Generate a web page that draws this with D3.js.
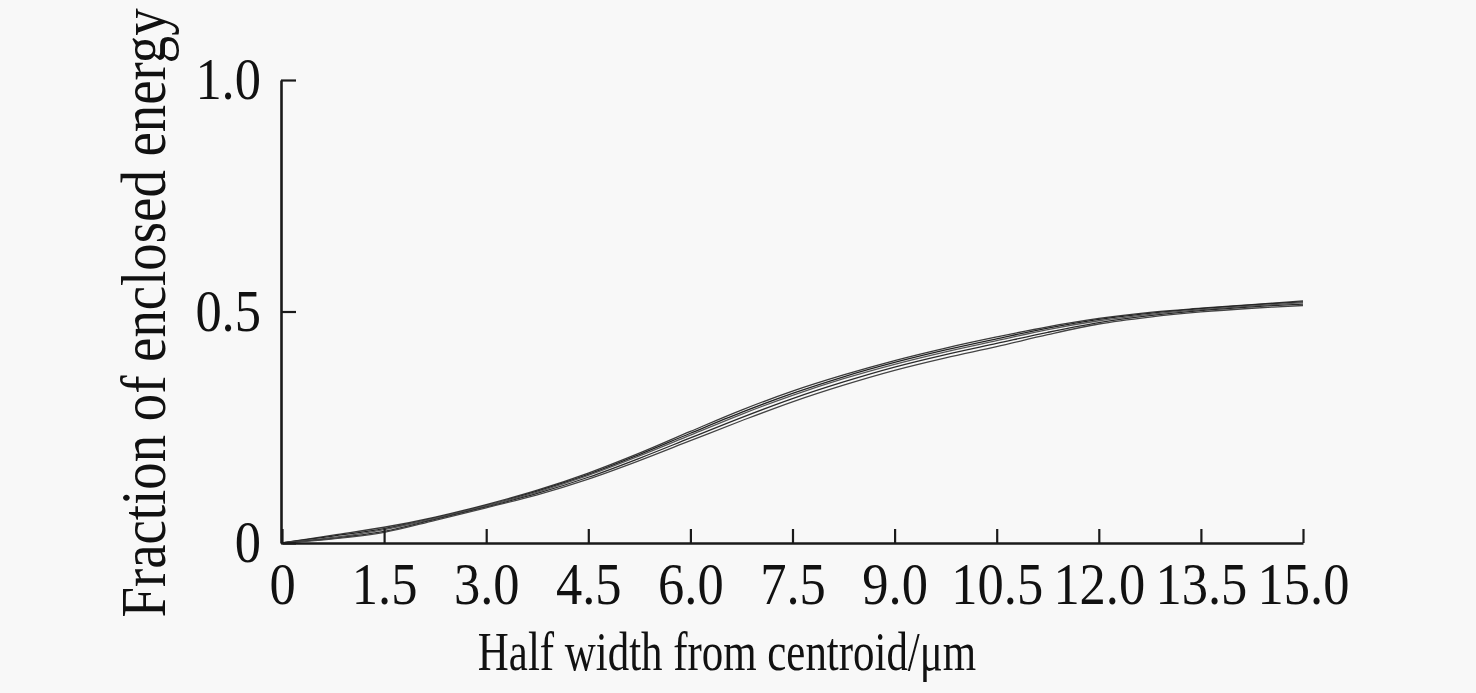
<!DOCTYPE html>
<html>
<head>
<meta charset="utf-8">
<script src="https://cdn.jsdelivr.net/npm/d3@7"></script>
<style>
  html, body { margin: 0; padding: 0; background: #f8f8f8; }
  svg { display: block; }
  text { font-family: "Liberation Serif", "Times New Roman", serif; fill: #111; }
</style>
</head>
<body>
<svg id="chart" width="1476" height="693"></svg>
<script>
// ---- data ----
const halfWidth = [0, 0.75, 1.5, 2.25, 3.0, 3.75, 4.5, 5.25, 6.0, 6.75, 7.5, 8.25, 9.0, 9.75, 10.5, 11.25, 12.0, 12.75, 13.5, 14.25, 15.0];
const seriesA = [0, 0.017, 0.034, 0.056, 0.083, 0.114, 0.151, 0.194, 0.241, 0.287, 0.328, 0.363, 0.394, 0.421, 0.445, 0.467, 0.485, 0.498, 0.507, 0.515, 0.523];
const seriesB = [0, 0.015, 0.031, 0.054, 0.081, 0.112, 0.148, 0.191, 0.237, 0.282, 0.323, 0.359, 0.390, 0.417, 0.441, 0.464, 0.483, 0.496, 0.506, 0.514, 0.521];
const seriesC = [0, 0.012, 0.029, 0.053, 0.080, 0.110, 0.146, 0.188, 0.233, 0.278, 0.319, 0.355, 0.386, 0.413, 0.437, 0.461, 0.480, 0.494, 0.504, 0.512, 0.519];
const seriesD = [0, 0.010, 0.025, 0.051, 0.078, 0.107, 0.142, 0.183, 0.227, 0.271, 0.312, 0.348, 0.380, 0.407, 0.431, 0.455, 0.476, 0.491, 0.502, 0.510, 0.516];
const seriesE = [0, 0.009, 0.023, 0.049, 0.076, 0.104, 0.138, 0.178, 0.221, 0.264, 0.305, 0.341, 0.373, 0.400, 0.424, 0.450, 0.473, 0.488, 0.499, 0.507, 0.513];
const xTicks = [0, 1.5, 3.0, 4.5, 6.0, 7.5, 9.0, 10.5, 12.0, 13.5, 15.0];
const xTickLabels = ["0", "1.5", "3.0", "4.5", "6.0", "7.5", "9.0", "10.5", "12.0", "13.5", "15.0"];
const yTicks = [0, 0.5, 1.0];
const yTickLabels = ["0", "0.5", "1.0"];
const xTitle = "Half width from centroid/μm";
const yTitle = "Fraction of enclosed energy";

// ---- layout ----
const svg = d3.select("#chart");
const x = d3.scaleLinear().domain([0, 15]).range([282, 1303]);
const y = d3.scaleLinear().domain([0, 1]).range([543, 80]);
const axisColor = "#1a1a1a";
const labelScale = 0.89;

// curves
const allSeries = [seriesA, seriesB, seriesC, seriesD, seriesE];
const line = d3.line()
  .x((d, i) => x(halfWidth[i]))
  .y(d => y(d))
  .curve(d3.curveCatmullRom.alpha(0.5));

svg.append("g")
  .selectAll("path")
  .data(allSeries)
  .join("path")
  .attr("d", line)
  .attr("fill", "none")
  .attr("stroke", (d, i) => ["#3a3a3a", "#222", "#555", "#2a2a2a", "#444"][i])
  .attr("stroke-width", 1.3);

// x axis (ticks inward)
const xAxis = d3.axisBottom(x)
  .tickValues(xTicks)
  .tickSizeInner(-14)
  .tickSizeOuter(0)
  .tickPadding(0)
  .tickFormat((d, i) => xTickLabels[i]);
const gx = svg.append("g").attr("transform", `translate(0,${y(0)})`).call(xAxis);
gx.select(".domain").attr("stroke", axisColor).attr("stroke-width", 2.6);
gx.selectAll(".tick line").attr("stroke", axisColor).attr("stroke-width", 2.2);
gx.selectAll(".tick text")
  .attr("font-size", 59)
  .attr("font-family", "Liberation Serif, serif")
  .attr("fill", "#111")
  .attr("y", 0)
  .attr("dy", 0)
  .attr("transform", `translate(0,61) scale(${labelScale},1)`);

// y axis (ticks inward)
const yAxis = d3.axisLeft(y)
  .tickValues(yTicks)
  .tickSizeInner(-15)
  .tickSizeOuter(0)
  .tickPadding(0)
  .tickFormat((d, i) => yTickLabels[i]);
const gy = svg.append("g").attr("transform", `translate(${x(0) - 1},0)`).call(yAxis);
gy.select(".domain").attr("stroke", axisColor).attr("stroke-width", 2.6);
gy.selectAll(".tick line").attr("stroke", axisColor).attr("stroke-width", 2.2);
gy.selectAll(".tick text")
  .attr("font-size", 59)
  .attr("font-family", "Liberation Serif, serif")
  .attr("fill", "#111")
  .attr("x", 0)
  .attr("dy", "0.32em")
  .attr("text-anchor", "end")
  .attr("transform", `translate(-20,0) scale(${labelScale},1)`);

// axis titles
svg.append("text")
  .attr("transform", "translate(727,670) scale(0.78,1)")
  .attr("text-anchor", "middle")
  .attr("font-size", 55)
  .text(xTitle);

svg.append("text")
  .attr("transform", "translate(165,313) rotate(-90) scale(0.87,1)")
  .attr("text-anchor", "middle")
  .attr("font-size", 63)
  .text(yTitle);
</script>
</body>
</html>
